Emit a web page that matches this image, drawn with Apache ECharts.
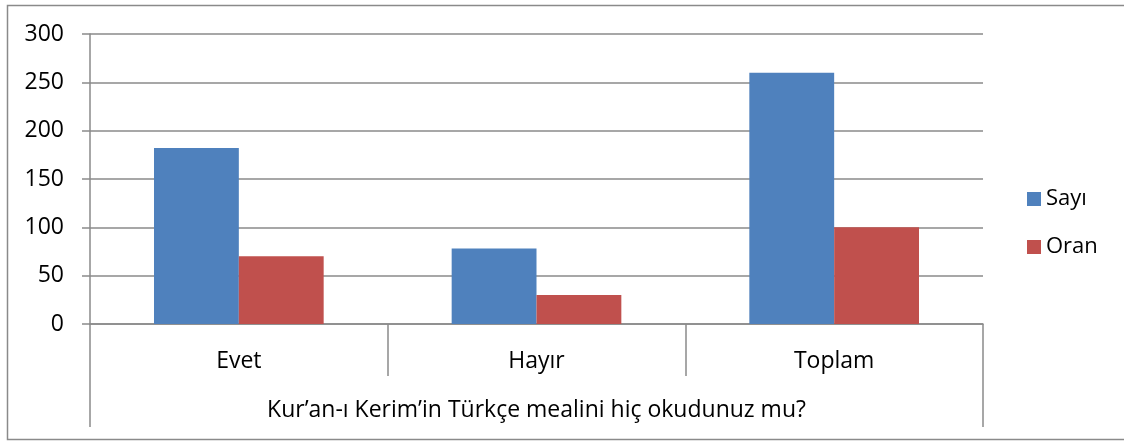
<!DOCTYPE html>
<html>
<head>
<meta charset="utf-8">
<script src="https://cdn.jsdelivr.net/npm/echarts@6/dist/echarts.min.js"></script>
<style>
  html, body { margin: 0; padding: 0; background: #fff; }
  #chart { width: 1124px; height: 441px; }
</style>
</head>
<body>
<div id="chart"></div>
<script>
// Survey answers and their counts / percentages
const categories = ['Evet', 'Hayır', 'Toplam'];
const sayi = [182, 78, 260];
const oran = [70, 30, 100];
const questionLabel = ['Kur\u2019an-ı Kerim\u2019in Türkçe mealini hiç okudunuz mu?'];
const yTicks = { min: 0, max: 300, interval: 50 };

const FONT = 'Open Sans';
const GRAY = '#8a8a8a';
const FS = 23;

const chart = echarts.init(document.getElementById('chart'), null, { renderer: 'canvas' });

chart.setOption({
  animation: false,
  backgroundColor: '#fff',
  textStyle: { fontFamily: FONT },
  graphic: [{
    type: 'rect',
    silent: true,
    shape: { x: 7.5, y: 5.5, width: 1140, height: 434 },
    style: { fill: 'none', stroke: GRAY, lineWidth: 1.5 }
  }],
  grid: { left: 90, right: 141, top: 34, bottom: 117, containLabel: false },
  legend: {
    orient: 'vertical',
    left: 1027,
    top: 188,
    padding: 0,
    itemWidth: 14,
    itemHeight: 14,
    itemGap: 26,
    icon: 'rect',
    textStyle: { fontFamily: FONT, fontSize: 22, color: '#000' },
    data: ['Sayı', 'Oran']
  },
  xAxis: [{
    type: 'category',
    data: categories,
    position: 'bottom',
    axisLine: { show: true, lineStyle: { color: GRAY, width: 1.5 } },
    axisTick: { show: true, alignWithLabel: false, length: 52, lineStyle: { color: GRAY, width: 1.5 } },
    axisLabel: { margin: 26, fontSize: FS, color: '#000', fontFamily: FONT },
    splitLine: { show: false }
  }, {
    type: 'category',
    data: questionLabel,
    position: 'bottom',
    axisLine: { show: false },
    axisTick: { show: true, alignWithLabel: false, length: 103, lineStyle: { color: GRAY, width: 1.5 } },
    axisLabel: { margin: 75, fontSize: FS, color: '#000', fontFamily: FONT },
    splitLine: { show: false }
  }],
  yAxis: {
    type: 'value',
    min: yTicks.min,
    max: yTicks.max,
    interval: yTicks.interval,
    axisLine: { show: true, lineStyle: { color: GRAY, width: 1.5 } },
    axisTick: { show: true, inside: false, length: 8, lineStyle: { color: GRAY, width: 1.5 } },
    axisLabel: { margin: 26, fontSize: FS, color: '#000', fontFamily: FONT },
    splitLine: { show: true, lineStyle: { color: GRAY, width: 1.5 } }
  },
  series: [{
    name: 'Sayı',
    type: 'bar',
    data: sayi,
    barGap: '0%',
    barCategoryGap: '43%',
    itemStyle: { color: '#4F81BD' }
  }, {
    name: 'Oran',
    type: 'bar',
    data: oran,
    barGap: '0%',
    barCategoryGap: '43%',
    itemStyle: { color: '#C0504D' }
  }]
});
</script>
</body>
</html>
